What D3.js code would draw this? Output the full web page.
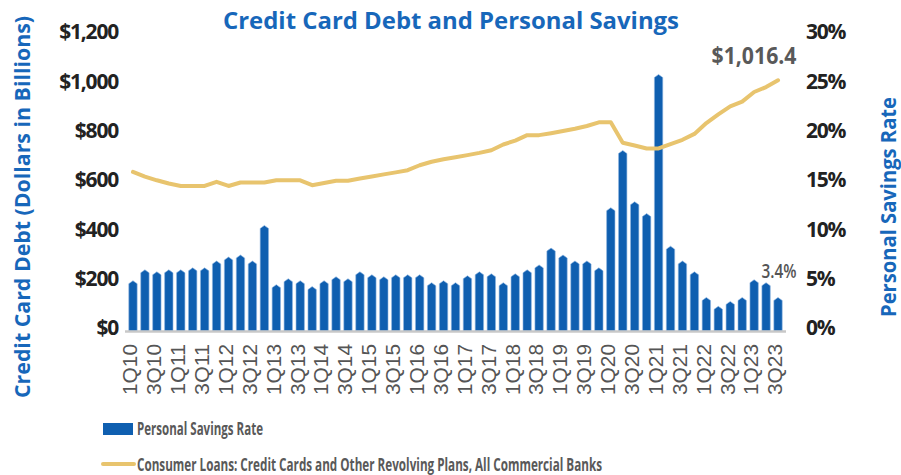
<!DOCTYPE html>
<html>
<head>
<meta charset="utf-8">
<script src="https://cdn.jsdelivr.net/npm/d3@7/dist/d3.min.js"></script>
<style>
  body { margin: 0; background: #fff; }
  svg { display: block; }
</style>
</head>
<body>
<div id="chart"></div>
<script>
// quarters 1Q10 .. 3Q23
var quarters = [];
d3.range(10, 24).forEach(function(yr) {
  [1, 2, 3, 4].forEach(function(q) {
    if (yr === 23 && q === 4) return;
    quarters.push(q + "Q" + yr);
  });
});

// personal savings rate, %
var savingsRate = [
  5.1, 6.2, 6.0, 6.2, 6.2, 6.4, 6.4, 7.1, 7.5, 7.7, 7.1, 10.7,
  4.7, 5.3, 5.1, 4.5, 5.1, 5.5, 5.3, 6.0, 5.7, 5.5, 5.7, 5.7,
  5.7, 4.9, 5.1, 4.9, 5.6, 6.0, 5.8, 4.9, 5.8, 6.2, 6.7, 8.4,
  7.7, 7.1, 7.1, 6.4, 12.5, 18.3, 13.1, 11.9, 26.0, 8.6, 7.1, 6.0,
  3.4, 2.5, 3.0, 3.4, 5.2, 4.9, 3.4
];

// credit card debt, $ billions
var cardDebt = [
  645, 626, 611, 598, 588, 588, 588, 605, 588, 602, 602, 602,
  611, 611, 611, 591, 600, 609, 609, 618, 626, 635, 643, 652,
  672, 686, 696, 704, 713, 722, 733, 756, 772, 794, 794, 802,
  811, 820, 831, 846, 846, 763, 752, 740, 740, 758, 775, 799,
  843, 878, 911, 930, 969, 989, 1016.4
];

var leftTicks = [0, 200, 400, 600, 800, 1000, 1200];
var rightTicks = [0, 5, 10, 15, 20, 25, 30];

var width = 901, height = 475;
var blue = "#0f5fb0", gold = "#e8c46e", titleBlue = "#1767ba";

var svg = d3.select("#chart").append("svg")
    .attr("width", width)
    .attr("height", height);

var x = d3.scaleBand()
  .domain(quarters)
  .range([127, 784])
  .paddingInner(0.3)
  .paddingOuter(0.15);

var yLeft = d3.scaleLinear().domain([0, 1200]).range([331, 35]);
var yRight = d3.scaleLinear().domain([0, 30]).range([331, 35]);

// title
svg.append("text")
    .attr("x", 451).attr("y", 29)
    .attr("text-anchor", "middle")
    .attr("textLength", 456).attr("lengthAdjust", "spacingAndGlyphs")
    .style("font", "bold 24px 'Open Sans', sans-serif")
    .style("fill", titleBlue)
    .text("Credit Card Debt and Personal Savings");

// bars with small pointed caps
var bw = x.bandwidth();
svg.append("g").selectAll("path")
    .data(savingsRate)
  .enter().append("path")
    .attr("fill", blue)
    .attr("stroke", "#8fb6e0").attr("stroke-width", 0.6)
    .attr("d", function(d, i) {
      var x0 = x(quarters[i]), top = yRight(d), sh = top + 3, base = yRight(0);
      return "M" + x0 + "," + base + "L" + x0 + "," + sh + "L" + (x0 + bw / 2) + "," + top +
        "L" + (x0 + bw) + "," + sh + "L" + (x0 + bw) + "," + base + "Z";
    });

// baseline
svg.append("line")
    .attr("x1", 125).attr("x2", 786)
    .attr("y1", 331.5).attr("y2", 331.5)
    .attr("stroke", "#c8c8c8").attr("stroke-width", 2.5);

// debt line
var line = d3.line()
  .x(function(d, i) { return x(quarters[i]) + bw / 2; })
  .y(function(d) { return yLeft(d); });

svg.append("path")
    .datum(cardDebt)
    .attr("fill", "none")
    .attr("stroke", gold)
    .attr("stroke-width", 4)
    .attr("stroke-linejoin", "round")
    .attr("stroke-linecap", "round")
    .attr("d", line);

// left axis
var gl = svg.append("g")
    .attr("transform", "translate(118,-3)")
    .call(d3.axisLeft(yLeft).tickValues(leftTicks).tickSize(0).tickPadding(0)
      .tickFormat(function(d) { return "$" + d3.format(",")(d); }));
gl.select(".domain").remove();
gl.selectAll("text")
    .style("font", "bold 21px 'Open Sans', sans-serif")
    .style("letter-spacing", "-1.2px")
    .style("fill", "#222");

// right axis
var gr = svg.append("g")
    .attr("transform", "translate(806,-3)")
    .call(d3.axisRight(yRight).tickValues(rightTicks).tickSize(0).tickPadding(0)
      .tickFormat(function(d) { return d + "%"; }));
gr.select(".domain").remove();
gr.selectAll("text")
    .style("font", "bold 21px 'Open Sans', sans-serif")
    .style("letter-spacing", "-1.2px")
    .style("fill", "#222");

// x axis
var gx = svg.append("g")
    .attr("transform", "translate(-3,344)")
    .call(d3.axisBottom(x)
      .tickValues(quarters.filter(function(d, i) { return i % 2 === 0; }))
      .tickSize(0).tickPadding(0));
gx.select(".domain").remove();
gx.selectAll("text")
    .attr("transform", "rotate(-90)")
    .attr("text-anchor", "end")
    .attr("x", 0).attr("y", 0)
    .attr("dy", "0.35em")
    .attr("textLength", 51).attr("lengthAdjust", "spacingAndGlyphs")
    .style("font", "21px 'Liberation Sans', Arial, sans-serif")
    .style("fill", "#555");

// axis titles
svg.append("text")
    .attr("transform", "translate(30,207) rotate(-90)")
    .attr("text-anchor", "middle")
    .attr("textLength", 382).attr("lengthAdjust", "spacingAndGlyphs")
    .style("font", "bold 22px 'Open Sans', sans-serif")
    .style("fill", titleBlue)
    .text("Credit Card Debt (Dollars in Billions)");

svg.append("text")
    .attr("transform", "translate(896,207) rotate(-90)")
    .attr("text-anchor", "middle")
    .attr("textLength", 220).attr("lengthAdjust", "spacingAndGlyphs")
    .style("font", "bold 21px 'Open Sans', sans-serif")
    .style("fill", titleBlue)
    .text("Personal Savings Rate");

// annotations
var last = quarters.length - 1;
svg.append("text")
    .attr("x", x(quarters[last]) + bw / 2 - 24).attr("y", 64)
    .attr("text-anchor", "middle")
    .attr("textLength", 85).attr("lengthAdjust", "spacingAndGlyphs")
    .style("font", "bold 23px 'Open Sans', sans-serif")
    .style("fill", "#595959")
    .text("$" + d3.format(",.1f")(cardDebt[last]));

svg.append("text")
    .attr("x", x(quarters[last]) + bw / 2 + 1).attr("y", 278)
    .attr("text-anchor", "middle")
    .attr("textLength", 35).attr("lengthAdjust", "spacingAndGlyphs")
    .style("font", "600 20px 'Open Sans', sans-serif")
    .style("fill", "#555")
    .text(d3.format(".1f")(savingsRate[last]) + "%");

// legend
var lg = svg.append("g");
lg.append("rect")
    .attr("x", 103).attr("y", 423).attr("width", 30).attr("height", 12)
    .attr("fill", blue);
lg.append("text")
    .attr("x", 137).attr("y", 435)
    .attr("textLength", 126).attr("lengthAdjust", "spacingAndGlyphs")
    .style("font", "bold 17px 'Open Sans', sans-serif")
    .style("fill", "#595959")
    .text("Personal Savings Rate");
lg.append("line")
    .attr("x1", 103).attr("x2", 134).attr("y1", 464).attr("y2", 464)
    .attr("stroke", gold).attr("stroke-width", 4).attr("stroke-linecap", "round");
lg.append("text")
    .attr("x", 137).attr("y", 471)
    .attr("textLength", 465).attr("lengthAdjust", "spacingAndGlyphs")
    .style("font", "bold 17px 'Open Sans', sans-serif")
    .style("fill", "#595959")
    .text("Consumer Loans: Credit Cards and Other Revolving Plans, All Commercial Banks");
</script>
</body>
</html>
